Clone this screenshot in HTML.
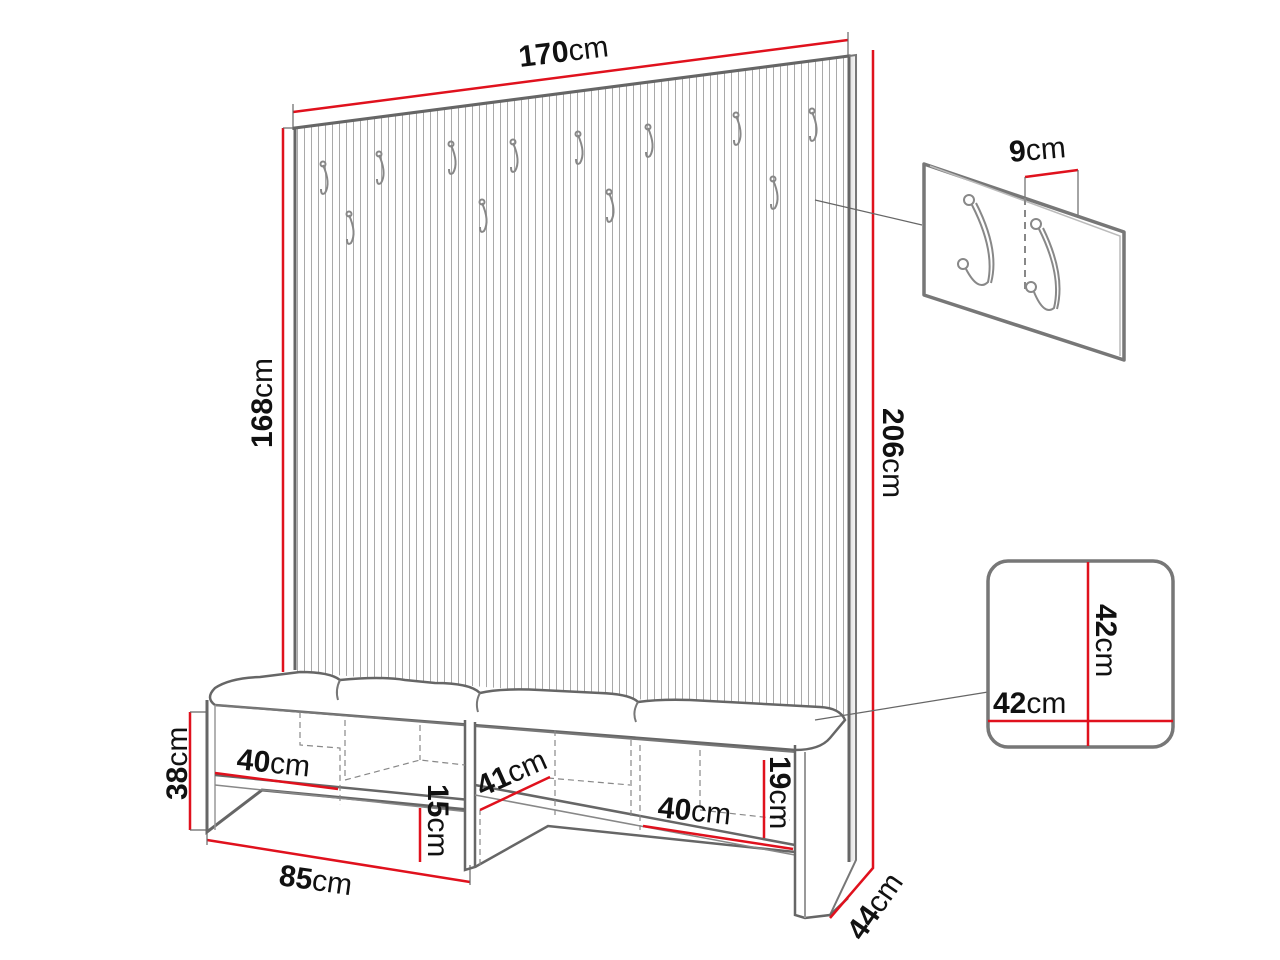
<!DOCTYPE html>
<html><head><meta charset="utf-8"><style>
html,body{margin:0;padding:0;background:#fff}
svg{display:block}
text{font-family:"Liberation Sans",sans-serif;font-size:30px;fill:#111}
.b{font-weight:bold}
</style></head><body>
<svg width="1280" height="960" viewBox="0 0 1280 960" xmlns="http://www.w3.org/2000/svg">
<defs>
<pattern id="st" x="0" y="0" width="7" height="960" patternUnits="userSpaceOnUse">
<rect x="3" y="0" width="1" height="960" fill="#9a9a9a"/>
</pattern>
<clipPath id="pc"><polygon points="297,128 848,56 848,716 297,672"/></clipPath>
<linearGradient id="sh" x1="0" y1="0" x2="1" y2="0"><stop offset="0" stop-color="#ddd"/><stop offset="1" stop-color="#fff"/></linearGradient>
</defs>

<!-- back panel -->
<rect x="297" y="50" width="552" height="680" fill="url(#st)" clip-path="url(#pc)" opacity="0.85"/>
<polygon points="849,56 858,55 858,860 849,862" fill="url(#sh)"/>
<path d="M295,670 L295,128 L849,56 L849,862" fill="none" stroke="#666" stroke-width="3"/>
<path d="M849,56 L856,55 L856,860 L830,915" fill="none" stroke="#777" stroke-width="2"/>

<!-- hooks -->
<g fill="none" stroke="#888" stroke-width="2">
<path d="M323,165 q8,18 2,28 q-4,3 -4,-4"/><circle cx="323" cy="164" r="2.5"/>
<path d="M379,155 q8,18 2,28 q-4,3 -4,-4"/><circle cx="379" cy="154" r="2.5"/>
<path d="M349,215 q8,18 2,28 q-4,3 -4,-4"/><circle cx="349" cy="214" r="2.5"/>
<path d="M451,145 q8,18 2,28 q-4,3 -4,-4"/><circle cx="451" cy="144" r="2.5"/>
<path d="M513,143 q8,18 2,28 q-4,3 -4,-4"/><circle cx="513" cy="142" r="2.5"/>
<path d="M482,203 q8,18 2,28 q-4,3 -4,-4"/><circle cx="482" cy="202" r="2.5"/>
<path d="M578,135 q8,18 2,28 q-4,3 -4,-4"/><circle cx="578" cy="134" r="2.5"/>
<path d="M648,128 q8,18 2,28 q-4,3 -4,-4"/><circle cx="648" cy="127" r="2.5"/>
<path d="M609,193 q8,18 2,28 q-4,3 -4,-4"/><circle cx="609" cy="192" r="2.5"/>
<path d="M736,116 q8,18 2,28 q-4,3 -4,-4"/><circle cx="736" cy="115" r="2.5"/>
<path d="M812,112 q8,18 2,28 q-4,3 -4,-4"/><circle cx="812" cy="111" r="2.5"/>
<path d="M773,180 q8,18 2,28 q-4,3 -4,-4"/><circle cx="773" cy="179" r="2.5"/>
</g>

<!-- bench -->
<g fill="#fff" stroke="#666" stroke-width="2.5">
<!-- seat top -->
<path d="M215,688 Q230,678 260,677 L300,672 Q330,672 340,680 Q380,676 405,680 L435,683 Q470,683 480,693 Q500,688 540,690 L600,693 Q630,694 638,702 Q660,699 690,700 L820,707 Q840,708 845,720 L830,738 Q820,750 795,750 L215,705 Q205,698 215,688 Z"/>
</g>
<g fill="none" stroke="#777" stroke-width="2">
<path d="M340,680 Q335,690 338,700"/>
<path d="M480,693 Q475,702 478,712"/>
<path d="M638,702 Q632,712 636,722"/>
<path d="M215,705 L795,752"/>
</g>
<!-- left end -->
<path d="M207,700 L207,832 L262,790 L470,810" fill="none" stroke="#666" stroke-width="3"/>
<path d="M215,705 L215,830" stroke="#999" stroke-width="1.5"/>
<!-- shelf left -->
<path d="M215,775 L470,800" stroke="#666" stroke-width="2.5"/>
<path d="M215,785 L470,812" stroke="#888" stroke-width="1.5"/>
<!-- middle divider -->
<path d="M465,720 L465,870 L475,867 L475,722" fill="#fff" stroke="#666" stroke-width="2.5"/>
<path d="M475,867 L548,826 L795,852" fill="none" stroke="#666" stroke-width="2.5"/>
<!-- right shelf -->
<path d="M475,785 L795,845" stroke="#666" stroke-width="2.5"/>
<path d="M475,795 L795,855" stroke="#888" stroke-width="1.5"/>
<!-- right end -->
<path d="M795,745 L795,915 L805,918 L830,915 L848,898" fill="none" stroke="#666" stroke-width="2.5"/>
<path d="M805,752 L805,918" stroke="#999" stroke-width="2"/>
<!-- dashed interior -->
<g fill="none" stroke="#888" stroke-width="1.2" stroke-dasharray="6,4">
<path d="M300,712 L300,745 L340,748 L340,805"/>
<path d="M345,720 L345,780 L420,760 L465,765"/>
<path d="M420,725 L420,760"/>
<path d="M555,730 L555,815"/><path d="M548,778 L630,785"/>
<path d="M631,740 L631,816"/><path d="M640,745 L640,830"/>
<path d="M700,750 L700,810 L790,820"/>
<path d="M480,865 L480,810"/>
</g>

<!-- red dimension lines -->
<g stroke="#e0111d" stroke-width="2.5" fill="none">
<path d="M293,112 L848,40"/>
<path d="M283,128 L283,672"/>
<path d="M873,50 L873,868 L830,918"/>
<path d="M190,712 L190,830"/>
<path d="M207,840 L470,882"/>
<path d="M215,773 L338,789"/>
<path d="M420,808 L420,862"/>
<path d="M480,810 L550,777"/>
<path d="M643,826 L793,849"/>
<path d="M764,760 L764,838"/>
<path d="M1025,177 L1078,170"/>
<path d="M1088,562 L1088,746"/>
<path d="M988,721 L1173,721"/>
</g>
<g stroke="#666" stroke-width="1.2" fill="none">
<path d="M293,104 L293,130"/><path d="M848,32 L848,56"/>
<path d="M283,128 L297,128"/><path d="M190,712 L207,712"/><path d="M190,830 L207,830"/>
<path d="M207,832 L207,845"/><path d="M470,865 L470,885"/>
<path d="M1025,177 L1025,198"/><path d="M1078,170 L1078,215"/>
<path d="M815,200 L922,225"/>
<path d="M815,720 L988,692"/>
</g>

<!-- hook detail box -->
<polygon points="924,164 1124,232 1124,360 924,295" fill="#fff" stroke="#777" stroke-width="3.5" stroke-linejoin="round"/>
<path d="M930,166 L1120,236 L1120,356" fill="none" stroke="#bbb" stroke-width="1.5"/>
<g fill="none" stroke="#888" stroke-width="2">
<circle cx="969" cy="200" r="5"/><circle cx="963" cy="264" r="5"/>
<path d="M972,205 Q995,250 988,282 Q978,292 966,269"/>
<path d="M976,203 Q1000,250 991,283"/>
<circle cx="1036" cy="224" r="5"/><circle cx="1031" cy="287" r="5"/>
<path d="M1039,229 Q1062,275 1054,308 Q1044,316 1034,292"/>
<path d="M1043,228 Q1066,275 1057,309"/>
<path d="M1025,198 L1025,290" stroke-dasharray="7,5"/>
</g>

<!-- seat detail box -->
<rect x="988" y="561" width="185" height="186" rx="20" fill="#fff" stroke="#777" stroke-width="3.5"/>
<g stroke="#e0111d" stroke-width="2.5"><path d="M1088,562 L1088,746"/><path d="M988,721 L1173,721"/></g>

<!-- labels -->
<text x="520" y="67" transform="rotate(-7 520 67)"><tspan class="b">170</tspan>cm</text>
<text x="272" y="448" transform="rotate(-90 272 448)"><tspan class="b">168</tspan>cm</text>
<text x="883" y="408" transform="rotate(90 883 408)"><tspan class="b">206</tspan>cm</text>
<text x="1010" y="162" transform="rotate(-5 1010 162)"><tspan class="b">9</tspan>cm</text>
<text x="1096" y="604" transform="rotate(90 1096 604)"><tspan class="b">42</tspan>cm</text>
<text x="993" y="713"><tspan class="b">42</tspan>cm</text>
<text x="187" y="800" transform="rotate(-90 187 800)"><tspan class="b">38</tspan>cm</text>
<text x="236" y="769" transform="rotate(6 236 769)"><tspan class="b">40</tspan>cm</text>
<text x="278" y="885" transform="rotate(8 278 885)"><tspan class="b">85</tspan>cm</text>
<text x="428" y="784" transform="rotate(90 428 784)"><tspan class="b">15</tspan>cm</text>
<text x="482" y="797" transform="rotate(-24 482 797)"><tspan class="b">41</tspan>cm</text>
<text x="657" y="817" transform="rotate(6 657 817)"><tspan class="b">40</tspan>cm</text>
<text x="770" y="756" transform="rotate(90 770 756)"><tspan class="b">19</tspan>cm</text>
<text x="862" y="942" transform="rotate(-55 862 942)"><tspan class="b">44</tspan>cm</text>
</svg>
</body></html>
